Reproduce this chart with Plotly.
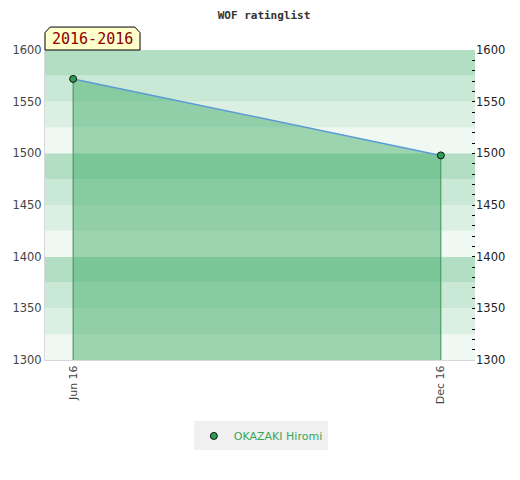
import plotly.graph_objects as go

# rating data
dates = ['2016-06-01', '2016-12-01']
ratings = [1572, 1498]
player = 'OKAZAKI Hiromi'
period_label = '2016-2016'

# background band edges (every 25 points) and their colours, cycling
band_edges = list(range(1300, 1601, 25))
band_colors = ['#eff8f2', '#dcefe3', '#c9e8d5', '#b2dec3']

fig = go.Figure()

# filled area under the rating line
fig.add_trace(go.Scatter(
    x=dates, y=ratings, mode='lines', fill='tozeroy',
    fillcolor='rgba(56,168,95,0.45)', line=dict(color='#5b9bd5', width=1.5),
    showlegend=False, hoverinfo='skip'))

# vertical drop lines from each point
drop_x, drop_y = [], []
for d, r in zip(dates, ratings):
    drop_x += [d, d, None]
    drop_y += [band_edges[0], r, None]
fig.add_trace(go.Scatter(
    x=drop_x, y=drop_y, mode='lines', line=dict(color='#3a8f58', width=1),
    showlegend=False, hoverinfo='skip'))

# markers (legend entry)
fig.add_trace(go.Scatter(
    x=dates, y=ratings, mode='markers', name=player,
    marker=dict(size=7, color='#2e9e55', line=dict(color='#111', width=1))))

# invisible trace so the right axis is drawn
fig.add_trace(go.Scatter(x=dates, y=ratings, yaxis='y2', mode='markers',
                         marker=dict(opacity=0), showlegend=False, hoverinfo='skip'))

shapes = []
for i in range(len(band_edges) - 1):
    shapes.append(dict(type='rect', xref='paper', yref='y', layer='below',
                       x0=0, x1=1, y0=band_edges[i], y1=band_edges[i + 1],
                       fillcolor=band_colors[i % 4], line=dict(width=0)))

# label box with cut top corners
bx1, by0, by1, cx, cy = 0.221, 1.0, 1.074, 0.012, 0.018
shapes.append(dict(
    type='path', xref='paper', yref='paper',
    path=f'M 0 {by0} L 0 {by1 - cy} L {cx} {by1} L {bx1 - cx} {by1} '
         f'L {bx1} {by1 - cy} L {bx1} {by0} Z',
    fillcolor='#ffffcc', line=dict(color='#000', width=1)))

# page body has an 8px margin, so the figure is a bit smaller than the window
fig.update_layout(
    width=512, height=472,
    margin=dict(l=37, r=45, t=42, b=120, autoexpand=False),
    paper_bgcolor='white', plot_bgcolor='white',
    title=dict(text='<b>WOF ratinglist</b>', x=0.5, xanchor='center', y=0.984, yanchor='middle',
               font=dict(family='DejaVu Sans Mono', size=11, color='#333')),
    shapes=shapes,
    annotations=[dict(text=period_label, xref='paper', yref='paper',
                      x=bx1 / 2, y=(by0 + by1) / 2, xanchor='center', yanchor='middle',
                      showarrow=False,
                      font=dict(family='DejaVu Sans Mono', size=15, color='#8b0000'))],
    xaxis=dict(type='date', range=['2016-05-18', '2016-12-18'],
               tickvals=dates, tickformat='%b %y', tickangle=-90,
               showgrid=False, zeroline=False, showline=True, linecolor='#d8d8d8',
               ticks='', tickfont=dict(family='DejaVu Sans', size=11, color='#444')),
    yaxis=dict(range=[1300, 1600], dtick=50, showgrid=False, zeroline=False,
               showline=True, linecolor='#d8d8d8', ticks='',
               tickfont=dict(family='DejaVu Sans', size=11.5, color='#444')),
    yaxis2=dict(range=[1300, 1600], dtick=50, overlaying='y', side='right',
                showgrid=False, zeroline=False, showline=False,
                ticks='inside', ticklen=3, tickcolor='#000',
                minor=dict(ticks='inside', dtick=10, ticklen=3, tickcolor='#000'),
                tickfont=dict(family='DejaVu Sans', size=11.5, color='#222')),
    legend=dict(x=0.502, y=-0.245, xanchor='center', yanchor='middle',
                orientation='h', bgcolor='#f0f0f0',
                font=dict(family='DejaVu Sans', size=11, color='#3aa65a')),
)

fig.write_html('out.html')
